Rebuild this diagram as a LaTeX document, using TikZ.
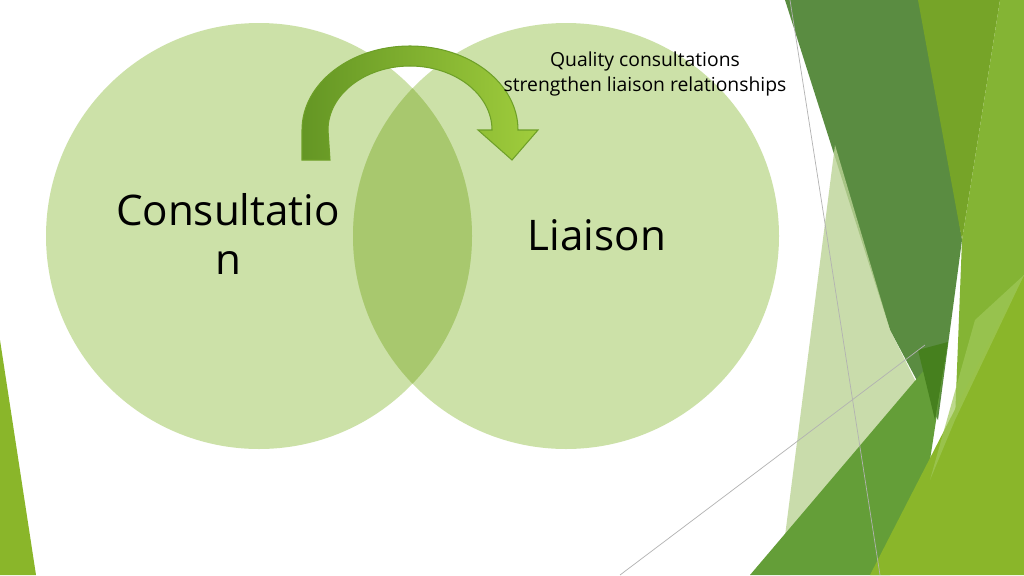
\documentclass[tikz,border=0pt]{standalone}
\usepackage{fontspec}
\setmainfont{Open Sans}
\begin{document}
\begin{tikzpicture}[x=0.02cm,y=-0.02cm,
  circ/.style={fill=cfill,fill opacity=0.75},
  deco/.style={draw=none},
  big/.style={font=\fontsize{24}{28}\selectfont,align=center}]
\definecolor{cfill}{HTML}{BCD88C}
\useasboundingbox (0,0) rectangle (1024,575);
\fill[white] (0,0) rectangle (1024,575);
% decoration
\fill[deco,fill={rgb,255:red,90;green,140;blue,65}] (785,0)--(925,0)--(962,240)--(938,420)--(890,330)--cycle;
\fill[deco,fill={rgb,255:red,118;green,164;blue,40}] (918,0)--(1000,0)--(962,240)--cycle;
\fill[deco,fill={rgb,255:red,132;green,180;blue,52}] (1000,0)--(1024,0)--(1024,275)--(955,420)--(962,240)--cycle;
\fill[deco,fill={rgb,255:red,188;green,212;blue,150},fill opacity=0.8] (835,145)--(890,330)--(925,400)--(850,500)--(790,575)--(780,575)--cycle;
\fill[deco,fill={rgb,255:red,100;green,158;blue,56}] (750,575)--(948,342)--(930,460)--(890,575)--cycle;
\fill[deco,fill={rgb,255:red,70;green,128;blue,30}] (918,350)--(948,342)--(935,420)--cycle;
\fill[deco,fill={rgb,255:red,138;green,182;blue,42}] (870,575)--(1024,275)--(1024,575)--cycle;
\fill[deco,fill={rgb,255:red,160;green,200;blue,90},fill opacity=0.7] (955,420)--(1024,275)--(975,320)--(930,480)--cycle;
\coordinate (g1a) at (790,0); \coordinate (g1b) at (880,575);
\coordinate (g2a) at (620,575); \coordinate (g2b) at (925,345);
\draw[gray!60,line width=0.4pt] (g1a)--(g1b);
\draw[gray!60,line width=0.4pt] (g2a)--(g2b);
\fill[deco,fill={rgb,255:red,138;green,182;blue,42}] (0,340)--(36,575)--(0,575)--cycle;
% circles
\fill[circ] (259,236) circle (213);
\fill[circ] (566,236) circle (213);
\begin{scope}
\clip (259,236) circle (213);
\fill[fill={rgb,255:red,168;green,200;blue,110}] (566,236) circle (213);
\end{scope}
% arrow
\shade[left color={rgb,255:red,100;green,150;blue,36},right color={rgb,255:red,160;green,205;blue,60},draw={rgb,255:red,110;green,160;blue,40},line width=0.6pt]
 (302,160)--(302,130) arc[start angle=180,end angle=360,x radius=108,y radius=84]
 --(538,130)--(512,160)--(478,130)--(492,130)
 arc[start angle=360,end angle=180,x radius=82,y radius=64]--(330,160)--cycle;
% texts
\node[big] (c) at (228,234) {Consultatio\\n};
\node[big] (l) at (597,235) {Liaison};
\node[font=\fontsize{11}{14}\selectfont,align=center] (q) at (645,74) {Quality consultations\\strengthen liaison relationships};
\end{tikzpicture}
\end{document}
